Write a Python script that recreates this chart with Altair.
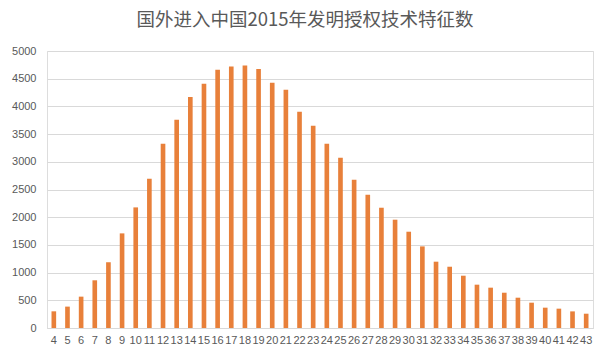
import altair as alt
import pandas as pd

categories = list(range(4, 44))
values = [301, 386, 566, 861, 1187, 1708, 2177, 2695, 3327, 3760,
          4170, 4410, 4662, 4722, 4740, 4675, 4428, 4300, 3904, 3652,
          3327, 3074, 2677, 2406, 2171, 1955, 1738, 1473, 1197, 1106,
          944, 782, 728, 637, 547, 457, 367, 349, 300, 258]

df = pd.DataFrame({"cat": [str(c) for c in categories], "val": values})

FONT = "Liberation Sans"
GRAY = "#595959"

chart = alt.Chart(df).mark_bar(color="#E8803A").encode(
    x=alt.X("cat:N", sort=None, title=None,
            scale=alt.Scale(paddingInner=0.66, paddingOuter=0.33),
            axis=alt.Axis(labelAngle=0, labelOverlap=False, ticks=False,
                          domain=True, domainColor="#D9D9D9", labelPadding=6,
                          labelFont=FONT, labelFontSize=11, labelColor=GRAY)),
    y=alt.Y("val:Q", title=None,
            scale=alt.Scale(domain=[0, 5000], nice=False),
            axis=alt.Axis(values=list(range(0, 5001, 500)), format="d",
                          ticks=False, domain=False,
                          gridColor="#D9D9D9", labelPadding=11,
                          labelFont=FONT, labelFontSize=11, labelColor=GRAY)),
).properties(
    width=546, height=277,
    title=alt.TitleParams("国外进入中国2015年发明授权技术特征数",
                          font="Noto Sans CJK SC", fontSize=18.5, fontWeight="normal",
                          color=GRAY, anchor="middle", offset=16, dx=-15),
    autosize=alt.AutoSizeParams(type="none"),
    padding={"left": 47, "top": 51, "right": 5, "bottom": 24},
).configure_view(stroke=None).configure(background="white")

chart.save("out.html", embed_options={"renderer": "svg", "actions": False})
